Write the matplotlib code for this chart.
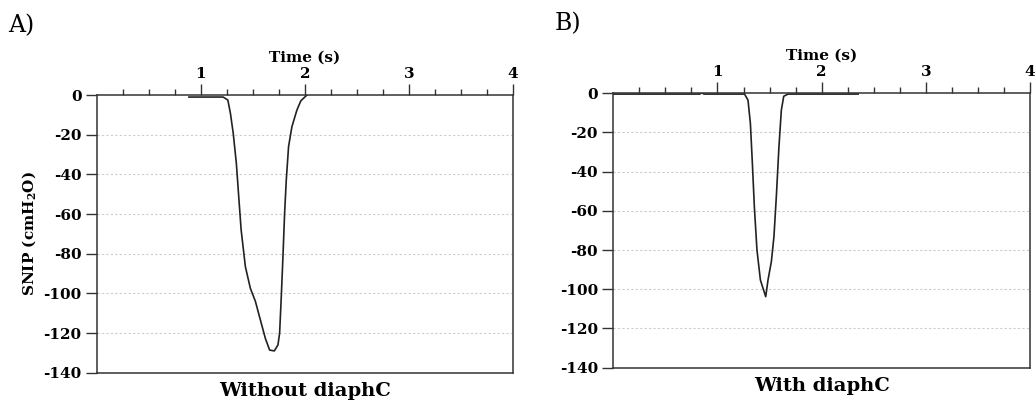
import numpy as np
import matplotlib
matplotlib.use("Agg")
import matplotlib.pyplot as plt
from matplotlib.ticker import FixedLocator

plt.rcParams['font.family'] = ['DejaVu Serif']
plt.rcParams['mathtext.fontset'] = 'dejavuserif'

# panel A: without diaphC (time in s, SNIP in cmH2O)
t_a = [0.884, 1.213, 1.258, 1.283, 1.31, 1.34, 1.363, 1.386, 1.427, 1.475, 1.523,
       1.571, 1.619, 1.66, 1.705, 1.74, 1.756, 1.772, 1.788, 1.804, 1.82, 1.842,
       1.874, 1.922, 1.96, 2.018]
snip_a = [-1, -1, -2.5, -9.2, -19.3, -34.4, -51.3, -68, -86.6, -97.5, -104,
          -113.4, -122.7, -128.6, -129, -126, -120, -101.7, -81.5, -59.6, -42.9, -26,
          -16, -7.6, -2.9, 0]

# panel B: with diaphC
t_b = [0.0, 0.83, 0.85, 0.87, 1.26, 1.293, 1.316, 1.335, 1.354, 1.379, 1.412, 1.463,
       1.485, 1.517, 1.542, 1.565, 1.59, 1.613, 1.636, 1.677, 2.35]
snip_b = [-0.5, -0.5, 0.2, -0.5, -0.5, -3.6, -15.5, -35.9, -58, -80, -95.3, -103.8,
          -95.3, -86, -73.2, -52.8, -27.4, -8.7, -1.6, -0.5, -0.5]

yticks = [0, -20, -40, -60, -80, -100, -120, -140]
xticks = [1, 2, 3, 4]
xminor = [0.25, 0.5, 0.75, 1.25, 1.5, 1.75, 2.25, 2.5, 2.75, 3.25, 3.5, 3.75]

fig = plt.figure(figsize=(10.36, 4.08), dpi=100)
axA = fig.add_axes([0.0936, 0.0865, 0.4016, 0.6805])
axB = fig.add_axes([0.592, 0.0988, 0.4022, 0.673])


def style(ax, t, v, bottom_label):
    ax.plot(t, v, color='#222222', lw=1.2)
    ax.set_xlim(0, 4)
    ax.set_ylim(-140, 0)
    ax.xaxis.tick_top()
    ax.xaxis.set_label_position('top')
    ax.set_xticks(xticks)
    ax.xaxis.set_minor_locator(FixedLocator(xminor))
    ax.set_yticks(yticks)
    ax.set_yticklabels([str(y) for y in yticks])
    ax.tick_params(axis='x', which='major', length=8, width=1, direction='out',
                   labelsize=11, pad=2, color='#333333')
    ax.tick_params(axis='x', which='minor', length=4, width=1, color='#333333')
    ax.tick_params(axis='y', which='major', length=8, width=1, labelsize=11,
                   pad=3, color='#333333')
    for lab in ax.get_xticklabels() + ax.get_yticklabels():
        lab.set_fontweight('bold')
    ax.set_xlabel('Time (s)', fontsize=11, fontweight='bold', labelpad=4)
    for y in yticks[1:-1]:
        ax.axhline(y, color='#cccccc', lw=0.8, ls=(0, (2, 2)), zorder=0)
    for s in ax.spines.values():
        s.set_color('#333333')
        s.set_linewidth(1.1)
    ax.text(0.5, -0.035, bottom_label, transform=ax.transAxes, ha='center',
            va='top', fontsize=14, fontweight='bold')


style(axA, t_a, snip_a, 'Without diaphC')
style(axB, t_b, snip_b, 'With diaphC')
axA.set_ylabel('SNIP (cmH$_\\mathbf{2}$O)', fontsize=11, fontweight='bold', labelpad=4)

fig.text(0.008, 0.92, 'A)', fontsize=17)
fig.text(0.535, 0.925, 'B)', fontsize=17)

fig.savefig('out.png', dpi=100)
